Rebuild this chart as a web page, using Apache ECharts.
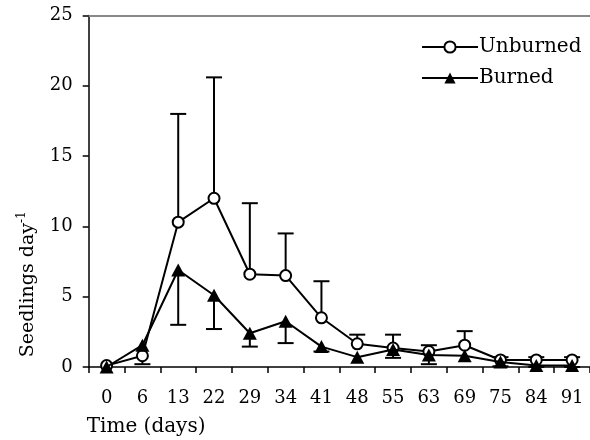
<!DOCTYPE html>
<html><head><meta charset="utf-8">
<script src="https://cdn.jsdelivr.net/npm/echarts@6/dist/echarts.min.js"></script>
<style>html,body{margin:0;padding:0;background:#fff}#c{width:590px;height:440px}</style>
</head><body><div id="c"></div>
<script>
const categories = ['0','6','13','22','29','34','41','48','55','63','69','75','84','91'];
const unburned = [0.1,0.8,10.3,12.0,6.6,6.5,3.5,1.65,1.35,1.1,1.55,0.5,0.5,0.5];
const burned = [0.0,1.55,6.9,5.1,2.4,3.25,1.45,0.7,1.25,0.85,0.8,0.35,0.1,0.1];
const unburnedUpper = [null,null,18.0,20.6,11.65,9.5,6.1,2.3,2.3,1.55,2.55,0.7,0.7,0.7];
const burnedLower = [null,0.2,3.0,2.7,1.45,1.7,1.1,null,0.65,0.2,null,0.05,0,0];
const yMin = 0, yMax = 25, yStep = 5;

const FONT = 'DejaVu Serif';
function errData(vals, bounds){
  const out = [];
  vals.forEach((v,i)=>{ if(bounds[i]!==null) out.push([i, v, bounds[i]]); });
  return out;
}
function renderErr(params, api){
  const p1 = api.coord([api.value(0), api.value(1)]);
  const p2 = api.coord([api.value(0), api.value(2)]);
  const hw = 8;
  const st = {stroke:'#000', lineWidth:2};
  return {type:'group', children:[
    {type:'line', shape:{x1:p1[0],y1:p1[1],x2:p2[0],y2:p2[1]}, style:st},
    {type:'line', shape:{x1:p2[0]-hw,y1:p2[1],x2:p2[0]+hw,y2:p2[1]}, style:st}
  ]};
}
const chart = echarts.init(document.getElementById('c'), null, {renderer:'canvas'});
chart.setOption({
  animation:false,
  backgroundColor:'#fff',
  textStyle:{fontFamily:FONT, color:'#000'},
  grid:{left:88.7, top:15.5, right:-2.7, bottom:73, containLabel:false},
  legend:{
    data:['Unburned','Burned'], orient:'vertical', left:416, top:32,
    itemWidth:56, itemHeight:14, itemGap:11,
    textStyle:{fontFamily:FONT, fontSize:20, color:'#000', padding:[0,0,0,-4]}
  },
  xAxis:[{
    type:'category', data:categories, boundaryGap:true,
    axisLine:{lineStyle:{color:'#000', width:1.5}},
    axisTick:{show:true, length:6, lineStyle:{color:'#000', width:1.5}},
    axisLabel:{fontFamily:FONT, fontSize:18, color:'#000', margin:22, interval:0},
    name:'Time (days)', nameLocation:'start', nameGap:2,
    nameTextStyle:{fontFamily:FONT, fontSize:20, color:'#000', align:'left', verticalAlign:'top', padding:[50,0,0,0]}
  },{
    type:'category', data:categories, position:'top',
    axisLine:{lineStyle:{color:'#888', width:2}},
    axisTick:{show:false}, axisLabel:{show:false}
  }],
  yAxis:{
    type:'value', min:yMin, max:yMax, interval:yStep,
    splitLine:{show:false},
    axisLine:{show:true, lineStyle:{color:'#000', width:1.5}},
    axisTick:{show:true, length:6, lineStyle:{color:'#000', width:1.5}},
    axisLabel:{fontFamily:FONT, fontSize:18, color:'#000', margin:16},
    name:'{a|Seedlings day}{b|-1}', nameLocation:'middle', nameGap:49,
    nameTextStyle:{fontFamily:FONT, color:'#000', padding:[0,186,0,0],
      rich:{a:{fontFamily:FONT, fontSize:19, color:'#000', lineHeight:24},
            b:{fontFamily:FONT, fontSize:12, color:'#000', lineHeight:24, verticalAlign:'top', padding:[0,0,10,0]}}}
  },
  series:[
    {type:'custom', name:'errU', renderItem:renderErr, data:errData(unburned, unburnedUpper), z:1, silent:true},
    {type:'custom', name:'errB', renderItem:renderErr, data:errData(burned, burnedLower), z:1, silent:true},
    {type:'line', name:'Unburned', data:unburned, z:3,
      symbol:'circle', symbolSize:11,
      lineStyle:{color:'#000', width:2},
      itemStyle:{color:'#fff', borderColor:'#000', borderWidth:2}},
    {type:'line', name:'Burned', data:burned, z:4,
      symbol:'triangle', symbolSize:[14,13],
      lineStyle:{color:'#000', width:2},
      itemStyle:{color:'#000', borderColor:'#000', borderWidth:0}}
  ]
});
</script></body></html>
